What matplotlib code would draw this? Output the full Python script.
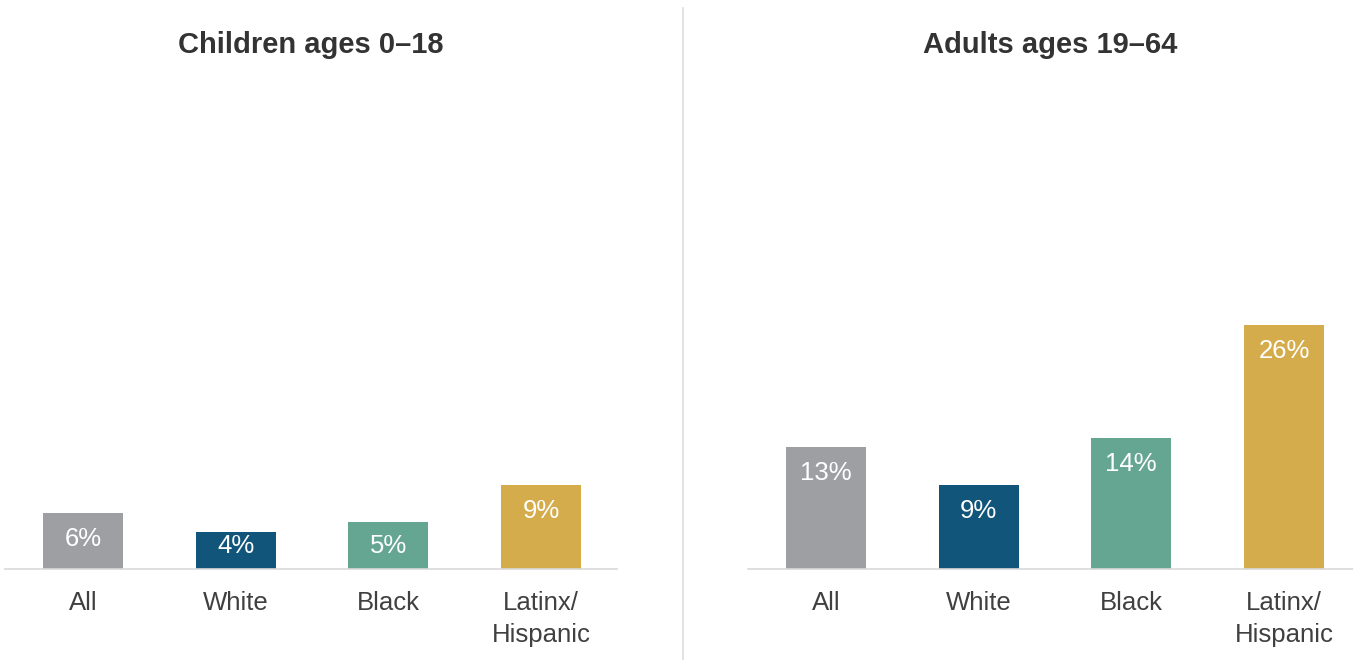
import matplotlib
matplotlib.use("Agg")
import matplotlib.pyplot as plt
from matplotlib.lines import Line2D

plt.rcParams['font.family'] = ['Liberation Sans', 'DejaVu Sans']

# data
groups = ["All", "White", "Black", "Latinx/\nHispanic"]
children = [6, 4, 5, 9]
adults = [13, 9, 14, 26]
titles = ["Children ages 0\u201318", "Adults ages 19\u201364"]
colors = ["#9d9fa2", "#12557a", "#65a692", "#d4ac4b"]

W, H = 1353, 660
fig = plt.figure(figsize=(W / 100, H / 100), dpi=100)

base_y = 569          # baseline, pixels from top
px_per_pct = 9.37
top_y = 80
ymax = (base_y - top_y) / px_per_pct
# label sits ~26px under the bar top, but never lower than ~23px above the base
top_off = 26 / px_per_pct
min_lab = 23 / px_per_pct

# (left px, right px, x-limits) for each panel
panels = [(5, 617, (-0.51, 3.498)), (748, 1353, (-0.51, 3.452))]

for (x0, x1, xl), vals, title in zip(panels, [children, adults], titles):
    ax = fig.add_axes([x0 / W, (H - base_y) / H, (x1 - x0) / W, (base_y - top_y) / H])
    pos = range(len(groups))
    ax.bar(pos, vals, width=0.524, color=colors, zorder=2)
    ax.set_xlim(*xl)
    ax.set_ylim(0, ymax)
    for x, v in zip(pos, vals):
        ax.text(x, max(v - top_off, min_lab), f"{v}%", ha="center", va="center",
                color="white", fontsize=18.5, zorder=3)
    for s in ["top", "right", "left"]:
        ax.spines[s].set_visible(False)
    ax.spines["bottom"].set_color("#d9d9d9")
    ax.spines["bottom"].set_linewidth(1.2)
    ax.set_yticks([])
    ax.set_xticks(list(pos))
    ax.set_xticklabels(groups, fontsize=18.5, color="#404040", linespacing=1.4)
    ax.tick_params(axis="x", length=0, pad=16)
    ax.set_title(title, fontsize=21, fontweight="bold", color="#333333", pad=0,
                 y=(base_y - 45) / (base_y - top_y), va="center")

fig.add_artist(Line2D([683 / W, 683 / W], [0, 1 - 8 / H], transform=fig.transFigure,
                      color="#dddddd", linewidth=1.2))

fig.savefig("out.png", dpi=100, facecolor="white")
